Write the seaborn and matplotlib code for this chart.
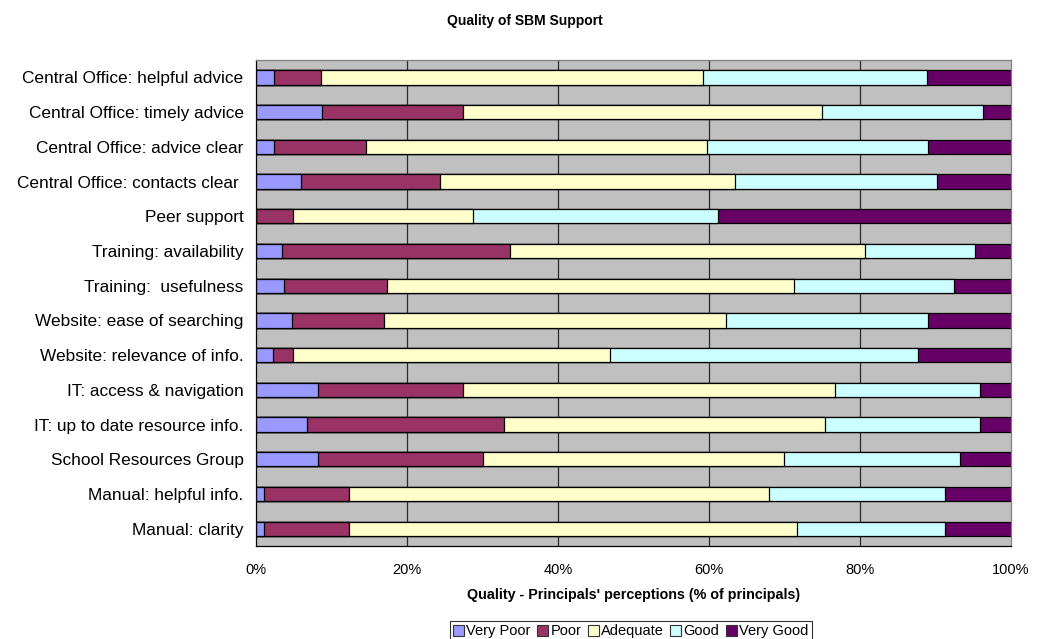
import numpy as np
import pandas as pd
import matplotlib
matplotlib.use("Agg")
import matplotlib.pyplot as plt
from matplotlib.patches import Patch
from matplotlib.ticker import FixedLocator
import seaborn as sns

# Survey items, top to bottom
items = [
    "Central Office: helpful advice",
    "Central Office: timely advice",
    "Central Office: advice clear",
    "Central Office: contacts clear ",
    "Peer support",
    "Training: availability",
    "Training:  usefulness",
    "Website: ease of searching",
    "Website: relevance of info.",
    "IT: access & navigation",
    "IT: up to date resource info.",
    "School Resources Group",
    "Manual: helpful info.",
    "Manual: clarity",
]

# Percent of principals giving each rating
very_poor = [2.4, 8.7, 2.4, 6.0, 0.0, 3.5, 3.7, 4.8, 2.3, 8.2, 6.8, 8.2, 1.1, 1.1]
poor      = [6.2, 18.7, 12.2, 18.4, 4.9, 30.2, 13.7, 12.2, 2.6, 19.2, 26.0, 21.9, 11.2, 11.2]
adequate  = [50.6, 47.6, 45.1, 39.0, 23.8, 47.0, 53.9, 45.2, 42.0, 49.3, 42.6, 39.8, 55.6, 59.3]
good      = [29.7, 21.3, 29.3, 26.8, 32.5, 14.5, 21.2, 26.8, 40.8, 19.2, 20.5, 23.3, 23.4, 19.7]
very_good = [11.1, 3.7, 11.0, 9.8, 38.8, 4.8, 7.5, 11.0, 12.3, 4.1, 4.1, 6.8, 8.7, 8.7]

ratings = ["Very Poor", "Poor", "Adequate", "Good", "Very Good"]
colors = ["#9999FF", "#993366", "#FFFFCC", "#CCFFFF", "#660066"]
tick_values = [0, 20, 40, 60, 80, 100]
tick_labels = ["0%", "20%", "40%", "60%", "80%", "100%"]

sns.set_style("white")
plt.rcParams["font.family"] = ["Liberation Sans", "DejaVu Sans"]
for key in ["text.color", "axes.labelcolor", "xtick.color", "ytick.color"]:
    plt.rcParams[key] = "black"

df = pd.DataFrame(
    {"item": items, "Very Poor": very_poor, "Poor": poor, "Adequate": adequate,
     "Good": good, "Very Good": very_good}
)
stacked = df[ratings].cumsum(axis=1)

fig = plt.figure(figsize=(10.42, 6.39), dpi=100)
ax = fig.add_axes([0.2457, 0.1455, 0.7246, 0.7605])
ax.set_facecolor("#C0C0C0")

# Vertical grid lines behind the bars
for v in tick_values[1:-1]:
    ax.axvline(v, color="#2a2a2a", linewidth=0.9, zorder=0)

# Stacked bars: draw cumulative totals from the outermost segment inward
for rating, color in reversed(list(zip(ratings, colors))):
    sns.barplot(
        x=stacked[rating], y=df["item"], orient="h", color=color,
        width=0.41, edgecolor="black", linewidth=0.9, ax=ax,
        saturation=1, zorder=2,
    )

ax.set_xlim(0, 100)
ax.set_ylim(len(items) - 0.5, -0.5)
ax.set_xticks(tick_values)
ax.set_xticklabels(tick_labels, fontsize=10.5)
ax.tick_params(axis="x", direction="out", length=4, width=0.8, pad=8)

ax.tick_params(axis="y", which="major", length=0, labelsize=12.4, pad=9)
ax.yaxis.set_minor_locator(FixedLocator(np.arange(-0.5, len(items), 1.0)))
ax.tick_params(axis="y", which="minor", direction="out", length=5, width=0.8)

ax.set_ylabel("")
ax.set_xlabel("Quality - Principals' perceptions (% of principals)",
              fontsize=10.3, fontweight="bold", labelpad=8)

for side in ["left", "bottom"]:
    ax.spines[side].set_color("black")
    ax.spines[side].set_linewidth(0.9)
for side in ["top", "right"]:
    ax.spines[side].set_color("#808080")
    ax.spines[side].set_linewidth(0.9)

fig.text(0.504, 0.967, "Quality of SBM Support", ha="center", va="center",
         fontsize=10, fontweight="bold")

handles = [Patch(facecolor=c, edgecolor="#333333", linewidth=0.8) for c in colors]
leg = fig.legend(
    handles, ratings, loc="lower center", bbox_to_anchor=(0.6055, -0.016),
    ncol=5, frameon=True, fontsize=10.5, handlelength=0.75, handleheight=0.75,
    handletextpad=0.15, columnspacing=0.45, borderpad=0.25, fancybox=False,
)
leg.get_frame().set_edgecolor("black")
leg.get_frame().set_linewidth(0.8)

fig.savefig("out.png", dpi=100, facecolor="white")
